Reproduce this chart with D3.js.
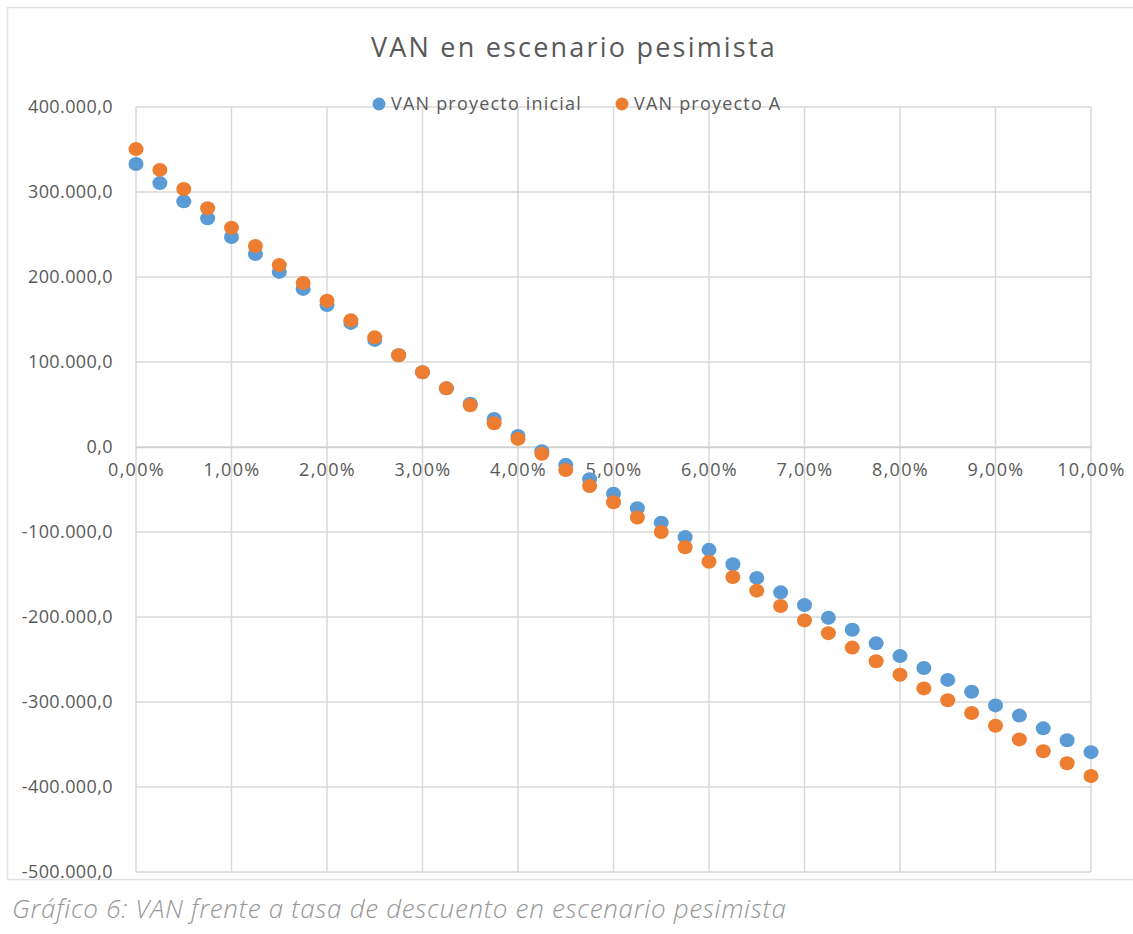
<!DOCTYPE html>
<html>
<head>
<meta charset="utf-8">
<script src="https://cdn.jsdelivr.net/npm/d3@7"></script>
<style>
  body { margin: 0; background: #fff; }
  text { font-family: "Open Sans", "DejaVu Sans", sans-serif; fill: #595959; }
  .grid line { stroke: #d9d9d9; stroke-width: 1.5; }
  .axis text { font-size: 18px; }
  .y-axis text { letter-spacing: 0.4px; }
  .x-axis text { letter-spacing: 1.3px; }
  .caption { font-style: italic; font-weight: 300; fill: #969696; }
</style>
</head>
<body>
<div class="app"></div>
<script>
'use strict'

var width = 1133;
var height = 934;

// tasa de descuento (%)
var tasas = [];
for (var t = 0; t <= 40; t++) tasas.push(t * 0.25);

var vanInicial = [
  333000, 310500, 289000, 269000, 247000, 227000, 206000, 186000, 167000, 146000,
  126000, 108000, 88000, 69000, 51000, 33000, 13000, -5000, -21000, -38000,
  -55000, -72000, -89000, -106000, -121000, -138000, -154000, -171000, -186000, -201000,
  -215000, -231000, -246000, -260000, -274000, -288000, -304000, -316000, -331000, -345000,
  -359000
];

var vanA = [
  350500, 326000, 303500, 281000, 258000, 236500, 214000, 193000, 172000, 149000,
  129000, 108000, 88000, 69000, 49000, 28000, 9500, -8000, -27000, -46000,
  -65000, -83000, -100000, -118000, -135000, -153000, -169000, -187000, -204000, -219000,
  -236000, -252000, -268000, -284000, -298000, -313000, -328000, -344000, -358000, -372000,
  -387000
];

var xTicks = [0, 1, 2, 3, 4, 5, 6, 7, 8, 9, 10];
var yTicks = [400000, 300000, 200000, 100000, 0, -100000, -200000, -300000, -400000, -500000];

var series = [
  {name: "VAN proyecto inicial", values: vanInicial, color: "#5b9bd5"},
  {name: "VAN proyecto A", values: vanA, color: "#ed7d31"}
];

var svg = d3.select(".app")
            .append("svg")
            .attr("width", width)
            .attr("height", height);

// borde del grafico
svg.append("rect")
   .attr("x", 7.5).attr("y", 7.5)
   .attr("width", 1140).attr("height", 872)
   .attr("fill", "none")
   .attr("stroke", "#e3e3e3")
   .attr("stroke-width", 1.5);

var plot = {left: 136, right: 1091, top: 107, bottom: 872};

var scaleX = d3.scaleLinear()
               .domain([0, 10])
               .range([plot.left, plot.right]);

var scaleY = d3.scaleLinear()
               .domain([-500000, 400000])
               .range([plot.bottom, plot.top]);

// lineas de cuadricula
var grid = svg.append("g").attr("class", "grid");
grid.selectAll("line.h")
    .data(yTicks)
    .enter().append("line")
    .attr("x1", plot.left).attr("x2", plot.right)
    .attr("y1", function(d) { return scaleY(d); })
    .attr("y2", function(d) { return scaleY(d); });
grid.selectAll("line.v")
    .data(xTicks)
    .enter().append("line")
    .attr("y1", plot.top).attr("y2", plot.bottom)
    .attr("x1", function(d) { return scaleX(d); })
    .attr("x2", function(d) { return scaleX(d); });

var fmtY = function(d) {
  return d3.format(",.1f")(d).replace(/,/g, "#").replace(".", ",").replace(/#/g, ".").replace("−", "-");
};
var fmtX = function(d) { return d3.format(".2f")(d).replace(".", ",") + "%"; };

// eje Y
var yAxis = d3.axisLeft(scaleY)
              .tickValues(yTicks)
              .tickSize(0)
              .tickPadding(23)
              .tickFormat(fmtY);
svg.append("g")
   .attr("class", "axis y-axis")
   .attr("transform", "translate(" + plot.left + ",0)")
   .call(yAxis)
   .call(function(g) { g.select(".domain").remove(); });

// eje X (cruza en 0)
var xAxis = d3.axisBottom(scaleX)
              .tickValues(xTicks)
              .tickSize(0)
              .tickPadding(16)
              .tickFormat(fmtX);
svg.append("g")
   .attr("class", "axis x-axis")
   .attr("transform", "translate(0," + scaleY(0) + ")")
   .call(xAxis)
   .call(function(g) { g.select(".domain").attr("stroke", "#d0d0d0").attr("stroke-width", 1.5); });

// puntos
series.forEach(function(s) {
  svg.append("g")
     .selectAll("ellipse")
     .data(s.values)
     .enter().append("ellipse")
     .attr("cx", function(d, i) { return scaleX(tasas[i]); })
     .attr("cy", function(d) { return scaleY(d); })
     .attr("rx", 7.5)
     .attr("ry", 7)
     .attr("fill", s.color);
});

// titulo
svg.append("text")
   .attr("x", 574).attr("y", 57)
   .attr("text-anchor", "middle")
   .style("font-size", "27px")
   .style("letter-spacing", "2.2px")
   .text("VAN en escenario pesimista");

// leyenda
var legX = [379, 622];
series.forEach(function(s, i) {
  svg.append("circle")
     .attr("cx", legX[i]).attr("cy", 104)
     .attr("r", 6.5)
     .attr("fill", s.color);
  svg.append("text")
     .attr("x", legX[i] + 12).attr("y", 110)
     .style("font-size", "18px")
     .style("letter-spacing", "1.2px")
     .text(s.name);
});

// pie de grafico
svg.append("text")
   .attr("class", "caption")
   .attr("x", 12).attr("y", 918)
   .style("font-size", "26px")
   .style("letter-spacing", "0.7px")
   .text("Gráfico 6: VAN frente a tasa de descuento en escenario pesimista");
</script>
</body>
</html>
